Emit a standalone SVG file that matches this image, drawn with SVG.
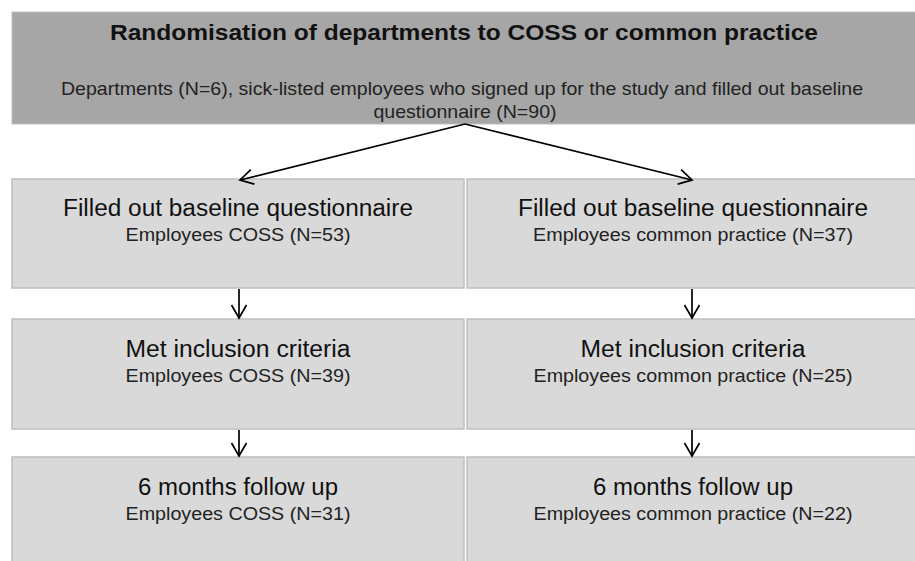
<svg xmlns="http://www.w3.org/2000/svg" width="915" height="561" viewBox="0 0 915 561">
<style>
.top{fill:#a6a6a6;stroke:#bdbdbd;stroke-width:1}
.box{fill:#d9d9d9;stroke:#bfbfbf;stroke-width:1.5}
text{font-family:"Liberation Sans",Arial,sans-serif;fill:#111;text-anchor:middle}
.h{font-size:23px}
.hb{font-size:22px;font-weight:bold}
.s{font-size:18px;fill:#222}
.st{font-size:19px;fill:#222}
.c{stroke:#000;stroke-width:1.7;fill:none}
</style>
<defs>
<marker id="ah" markerUnits="userSpaceOnUse" markerWidth="16" markerHeight="18" refX="14" refY="9" orient="auto" viewBox="0 0 16 18">
<path d="M1,1.5 L14,9 L1,16.5" fill="none" stroke="#000" stroke-width="1.7"/>
</marker>
</defs>
<rect width="915" height="561" fill="#fff"/>
<g id="top">
<rect class="top" x="12" y="12" width="906" height="112"/>
<text class="hb" x="464" y="40" textLength="708" lengthAdjust="spacingAndGlyphs">Randomisation of departments to COSS or common practice</text>
<text class="st" x="462" y="95" textLength="802" lengthAdjust="spacingAndGlyphs">Departments  (N=6), sick-listed employees who signed up for the study and filled out baseline</text>
<text class="st" x="465" y="118" textLength="183" lengthAdjust="spacingAndGlyphs">questionnaire  (N=90)</text>
</g>
<g id="baseline-coss">
<rect class="box" x="12" y="179" width="452" height="109"/>
<text class="h" x="238" y="216" textLength="350" lengthAdjust="spacingAndGlyphs">Filled out baseline questionnaire</text>
<text class="s" x="238" y="241" textLength="225" lengthAdjust="spacingAndGlyphs">Employees  COSS  (N=53)</text>
</g>
<g id="baseline-cp">
<rect class="box" x="467" y="179" width="452" height="109"/>
<text class="h" x="693" y="216" textLength="350" lengthAdjust="spacingAndGlyphs">Filled out baseline questionnaire</text>
<text class="s" x="693" y="241" textLength="320" lengthAdjust="spacingAndGlyphs">Employees  common  practice (N=37)</text>
</g>
<g id="inclusion-coss">
<rect class="box" x="12" y="319" width="452" height="110"/>
<text class="h" x="238" y="357" textLength="225" lengthAdjust="spacingAndGlyphs">Met inclusion criteria</text>
<text class="s" x="238" y="382" textLength="225" lengthAdjust="spacingAndGlyphs">Employees  COSS  (N=39)</text>
</g>
<g id="inclusion-cp">
<rect class="box" x="467" y="319" width="452" height="110"/>
<text class="h" x="693" y="357" textLength="225" lengthAdjust="spacingAndGlyphs">Met inclusion criteria</text>
<text class="s" x="693" y="382" textLength="319" lengthAdjust="spacingAndGlyphs">Employees  common  practice (N=25)</text>
</g>
<g id="followup-coss">
<rect class="box" x="12" y="457" width="452" height="110"/>
<text class="h" x="238" y="495" textLength="200" lengthAdjust="spacingAndGlyphs">6 months follow up</text>
<text class="s" x="238" y="520" textLength="225" lengthAdjust="spacingAndGlyphs">Employees COSS (N=31)</text>
</g>
<g id="followup-cp">
<rect class="box" x="467" y="457" width="452" height="110"/>
<text class="h" x="693" y="495" textLength="200" lengthAdjust="spacingAndGlyphs">6 months follow up</text>
<text class="s" x="693" y="520" textLength="319" lengthAdjust="spacingAndGlyphs">Employees common practice (N=22)</text>
</g>
<g id="connectors">
<path class="c" d="M465,124 L240,180" marker-end="url(#ah)"/>
<path class="c" d="M465,124 L692,180" marker-end="url(#ah)"/>
<path class="c" d="M239,289 L239,318" marker-end="url(#ah)"/>
<path class="c" d="M692,289 L692,318" marker-end="url(#ah)"/>
<path class="c" d="M239,430 L239,456" marker-end="url(#ah)"/>
<path class="c" d="M692,430 L692,456" marker-end="url(#ah)"/>
</g>
</svg>
